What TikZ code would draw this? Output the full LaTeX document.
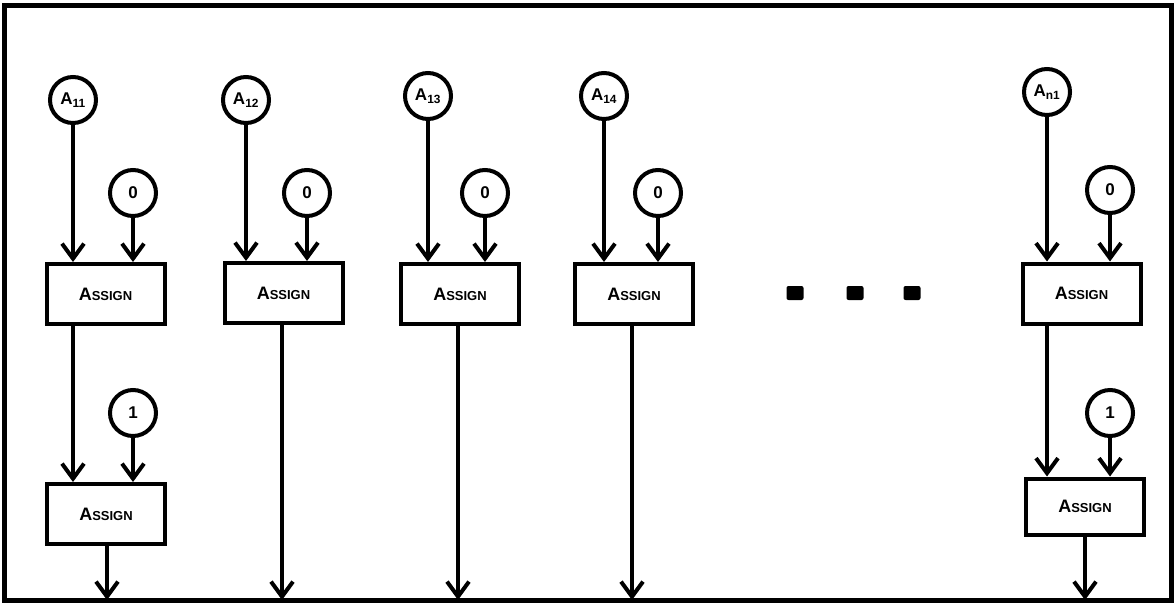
\documentclass[tikz,border=0pt]{standalone}
\usepackage{fontspec}
\setmainfont{Liberation Sans}
\usetikzlibrary{arrows.meta}
\tikzset{
  wire/.style={line width=4pt,-{Straight Barb[length=15pt,width=22pt,line width=4pt]}},
  circ/.style={circle,draw,line width=4pt,minimum size=46pt,inner sep=0pt,font=\bfseries\fontsize{17}{18}\selectfont},
  abox/.style={rectangle,draw,line width=4pt,minimum width=118pt,minimum height=60pt,inner sep=0pt,font=\bfseries\fontsize{18}{20}\selectfont},
  dotbox/.style={rectangle,fill=black,minimum width=17pt,minimum height=14pt,inner sep=0pt,rounded corners=2pt}
}
\newcommand{\assignlbl}{A{\fontsize{13}{15}\selectfont SSIGN}}
\begin{document}
\begin{tikzpicture}[x=1pt,y=-1pt]
\useasboundingbox (0,0) rectangle (1174,605);
\draw[line width=5pt] (4,5) rectangle (1171,600);

% column 1
\node[circ] (a11) at (73,100) {A\textsubscript{11}};
\node[circ] (z1) at (133,193) {0};
\node[abox] (b11) at (105.5,294) {\assignlbl};
\node[circ] (o1) at (133,413) {1};
\node[abox] (b21) at (106,514) {\assignlbl};
\coordinate (e1) at (107,600);
\draw[wire] (a11.south) -- (a11.south |- b11.north);
\draw[wire] (z1.south) -- (z1.south |- b11.north);
\draw[wire] (b11.south -| a11.south) -- (a11.south |- b21.north);
\draw[wire] (o1.south) -- (o1.south |- b21.north);
\draw[wire] (b21.south -| e1) -- (e1);

% column 2
\node[circ] (a12) at (246,100) {A\textsubscript{12}};
\node[circ] (z2) at (307,193) {0};
\node[abox] (b12) at (283.5,293) {\assignlbl};
\coordinate (e2) at (282,600);
\draw[wire] (a12.south) -- (a12.south |- b12.north);
\draw[wire] (z2.south) -- (z2.south |- b12.north);
\draw[wire] (b12.south -| e2) -- (e2);

% column 3
\node[circ] (a13) at (428,96) {A\textsubscript{13}};
\node[circ] (z3) at (485,193) {0};
\node[abox] (b13) at (460,294) {\assignlbl};
\coordinate (e3) at (458,600);
\draw[wire] (a13.south) -- (a13.south |- b13.north);
\draw[wire] (z3.south) -- (z3.south |- b13.north);
\draw[wire] (b13.south -| e3) -- (e3);

% column 4
\node[circ] (a14) at (604,96) {A\textsubscript{14}};
\node[circ] (z4) at (658,193) {0};
\node[abox] (b14) at (634,294) {\assignlbl};
\coordinate (e4) at (632,600);
\draw[wire] (a14.south) -- (a14.south |- b14.north);
\draw[wire] (z4.south) -- (z4.south |- b14.north);
\draw[wire] (b14.south -| e4) -- (e4);

% dots
\node[dotbox] (d1) at (795,293) {};
\node[dotbox] (d2) at (855,293) {};
\node[dotbox] (d3) at (912,293) {};

% column n
\node[circ] (an) at (1047,92) {A\textsubscript{n1}};
\node[circ] (zn) at (1110,190) {0};
\node[abox] (bn1) at (1081.5,293.5) {\assignlbl};
\node[circ] (on) at (1110,413) {1};
\node[abox,minimum height=56pt] (bn2) at (1085,506.5) {\assignlbl};
\coordinate (en) at (1085,600);
\draw[wire] (an.south) -- (an.south |- bn1.north);
\draw[wire] (zn.south) -- (zn.south |- bn1.north);
\draw[wire] (bn1.south -| an.south) -- (an.south |- bn2.north);
\draw[wire] (on.south) -- (on.south |- bn2.north);
\draw[wire] (bn2.south -| en) -- (en);
\end{tikzpicture}
\end{document}
